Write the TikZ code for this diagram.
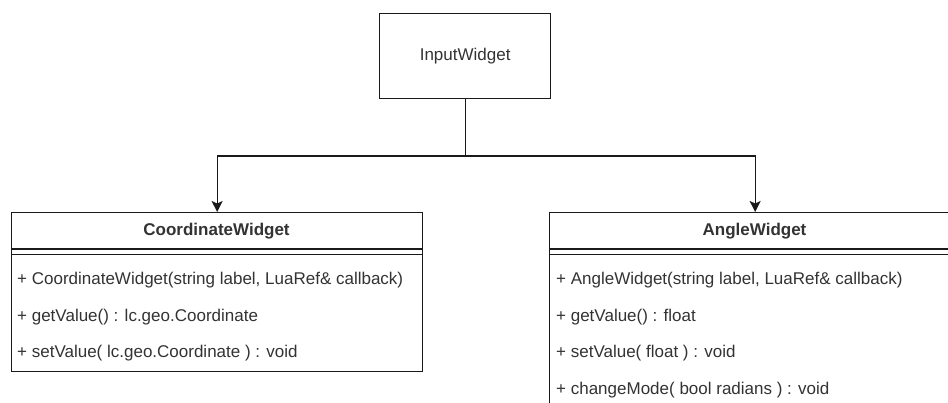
\documentclass[tikz,border=0pt]{standalone}
\usepackage{fontspec}
\setmainfont{Liberation Sans}
\usetikzlibrary{arrows.meta}
\definecolor{txt}{HTML}{333333}
\definecolor{ln}{HTML}{1A1A1A}
\tikzset{
  box/.style={draw=ln, line width=1.3pt, rectangle, inner sep=0pt, anchor=north west},
  sepline/.style={draw=ln, line width=1.3pt},
  hdr/.style={text=txt, font=\fontsize{17}{20}\selectfont\bfseries, inner sep=0pt},
  plain/.style={text=txt, font=\fontsize{17}{20}\selectfont, inner sep=0pt},
  row/.style={text=txt, font=\fontsize{17}{20}\selectfont, inner sep=0pt, anchor=west},
  trunk/.style={draw=ln, line width=1.3pt, line cap=rect},
  conn/.style={draw=ln, line width=1.3pt, line cap=rect, -{Stealth[length=11pt,width=11pt,inset=2.5pt]}}
}
\begin{document}
\begin{tikzpicture}[x=1pt,y=-1pt]
\useasboundingbox (0,0) rectangle (948,402);
\clip (0,0) rectangle (948,402);
\fill[white] (0,0) rectangle (948,402);
% InputWidget
\node[box, minimum width=171pt, minimum height=85pt] (in) at (379,13) {};
\node[plain] (intext) at (in.center) {InputWidget};
% CoordinateWidget
\node[box, minimum width=411pt, minimum height=159pt] (cw) at (11,212) {};
\node[hdr] (cwh) at (216.5,231) {CoordinateWidget};
\draw[sepline] (11,249) -- (422,249);
\draw[sepline] (11,254.5) -- (422,254.5);
\node[row] (cw1) at (17,280) {+ CoordinateWidget(string label, LuaRef\& callback)};
\node[row] (cw2) at (17,317) {+ getValue() : lc.geo.Coordinate};
\node[row] (cw3) at (17,353) {+ setValue( lc.geo.Coordinate ) : void};
% AngleWidget
\node[box, minimum width=411pt, minimum height=196pt] (aw) at (549,212) {};
\node[hdr] (awh) at (754.5,231) {AngleWidget};
\draw[sepline] (549,249) -- (960,249);
\draw[sepline] (549,254.5) -- (960,254.5);
\node[row] (aw1) at (556,280) {+ AngleWidget(string label, LuaRef\& callback)};
\node[row] (aw2) at (556,317) {+ getValue() : float};
\node[row] (aw3) at (556,353) {+ setValue( float ) : void};
\node[row] (aw4) at (556,390) {+ changeMode( bool radians ) : void};
% connectors
\coordinate (j) at (in.south |- 0,156);
\draw[trunk] (in.south) -- (j);
\draw[conn] (j) -| (cw.north);
\draw[conn] (j) -| (aw.north);
\end{tikzpicture}
\end{document}
